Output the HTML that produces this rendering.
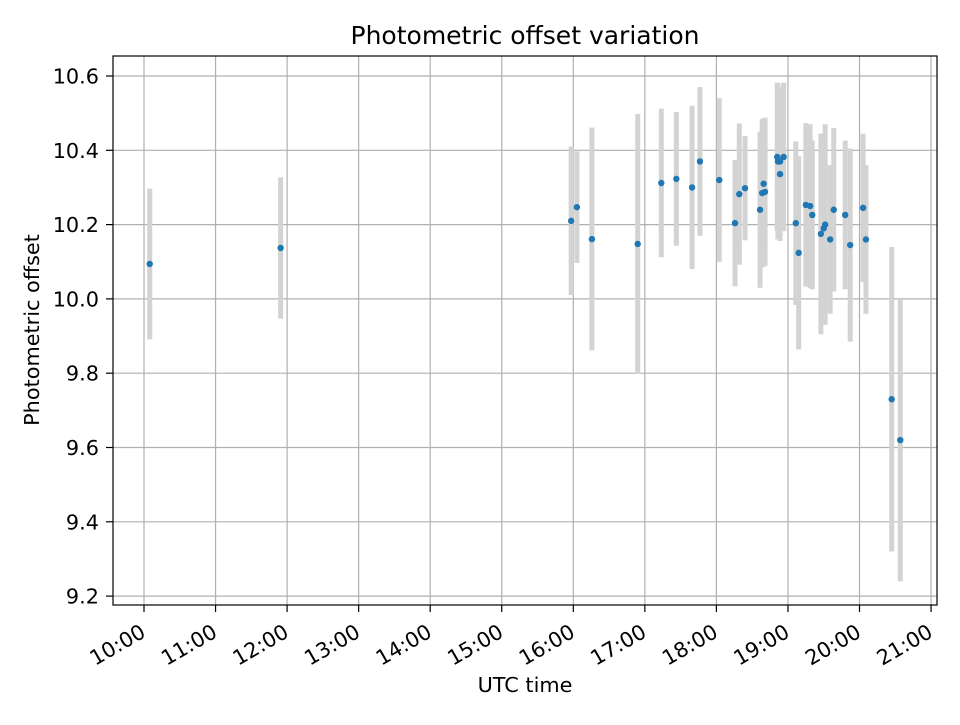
<!DOCTYPE html>
<html><head><meta charset="utf-8"><style>
body{margin:0;background:#fff;}
svg text{font-family:"DejaVu Sans","Liberation Sans",sans-serif;fill:#000;}
</style></head><body>
<svg width="960" height="720" xmlns="http://www.w3.org/2000/svg" id="chart">
<rect width="960" height="720" fill="#fff"/>
<g id="grid"></g>
<g id="bars"></g>
<g id="pts"></g>
<rect x="113" y="56" width="824" height="549" fill="none" stroke="#000" stroke-width="1.2"/>
<g id="ticks"></g>
<text x="525" y="44" font-size="25" text-anchor="middle">Photometric offset variation</text>
<text x="525" y="692" font-size="20.8" text-anchor="middle">UTC time</text>
<text transform="translate(39,330) rotate(-90)" font-size="20.8" text-anchor="middle">Photometric offset</text>
</svg>
<script>
const times=[10.08,11.91,15.97,16.05,16.26,16.90,17.23,17.44,17.66,17.77,18.04,18.26,18.32,18.40,18.61,18.64,18.68,18.66,18.85,18.89,18.86,18.94,18.89,19.11,19.15,19.25,19.31,19.34,19.46,19.52,19.50,19.59,19.64,19.80,19.87,20.05,20.09,20.45,20.57];
const values=[10.094,10.137,10.21,10.247,10.161,10.148,10.312,10.323,10.30,10.37,10.32,10.204,10.282,10.298,10.24,10.285,10.288,10.31,10.382,10.37,10.37,10.382,10.336,10.204,10.124,10.253,10.25,10.226,10.175,10.2,10.19,10.16,10.24,10.226,10.145,10.245,10.16,9.73,9.62];
const errors=[0.203,0.19,0.2,0.15,0.3,0.35,0.2,0.18,0.22,0.2,0.22,0.17,0.19,0.14,0.21,0.2,0.2,0.17,0.2,0.2,0.21,0.2,0.18,0.22,0.26,0.22,0.22,0.2,0.27,0.27,0.25,0.2,0.22,0.2,0.26,0.2,0.2,0.41,0.38];
const xTicks=[10,11,12,13,14,15,16,17,18,19,20,21];
const yTicks=[9.2,9.4,9.6,9.8,10.0,10.2,10.4,10.6];
const NS="http://www.w3.org/2000/svg";
const X=h=>144+(h-10)*71.55;
const Y=v=>76+(10.6-v)*371.5;
function mk(t,a,p){const e=document.createElementNS(NS,t);for(const k in a)e.setAttribute(k,a[k]);p.appendChild(e);return e;}
const grid=document.getElementById('grid'),ticks=document.getElementById('ticks'),bars=document.getElementById('bars'),pts=document.getElementById('pts');
xTicks.forEach(h=>{const x=X(h);
 const g=mk('line',{x1:x,x2:x,y1:56,y2:605,stroke:'#b0b0b0','stroke-width':1.2},grid);
 
 mk('line',{x1:x,x2:x,y1:605,y2:612,stroke:'#000','stroke-width':1.2},ticks);
 const tx=x+3,ty=636;
 const t=mk('text',{x:tx,y:ty,'font-size':20.8,'text-anchor':'end',transform:`rotate(-30 ${tx} ${ty})`},ticks);
 
 t.textContent=String(h).padStart(2,'0')+':00';});
yTicks.forEach(v=>{const y=Y(v);
 const g=mk('line',{x1:113,x2:937,y1:y,y2:y,stroke:'#b0b0b0','stroke-width':1.2},grid);
 
 mk('line',{x1:106,x2:113,y1:y,y2:y,stroke:'#000','stroke-width':1.2},ticks);
 const t=mk('text',{x:99,y:y+7.5,'font-size':20.8,'text-anchor':'end'},ticks);
 
 t.textContent=v.toFixed(1);});
times.forEach((h,i)=>{
 const b=mk('line',{x1:X(h),x2:X(h),y1:Y(values[i]+errors[i]),y2:Y(values[i]-errors[i]),stroke:'#d3d3d3','stroke-width':5},bars);
 
 const c=mk('circle',{cx:X(h),cy:Y(values[i]),r:3.2,fill:'#1f77b4'},pts);
 });
</script>
</body></html>
